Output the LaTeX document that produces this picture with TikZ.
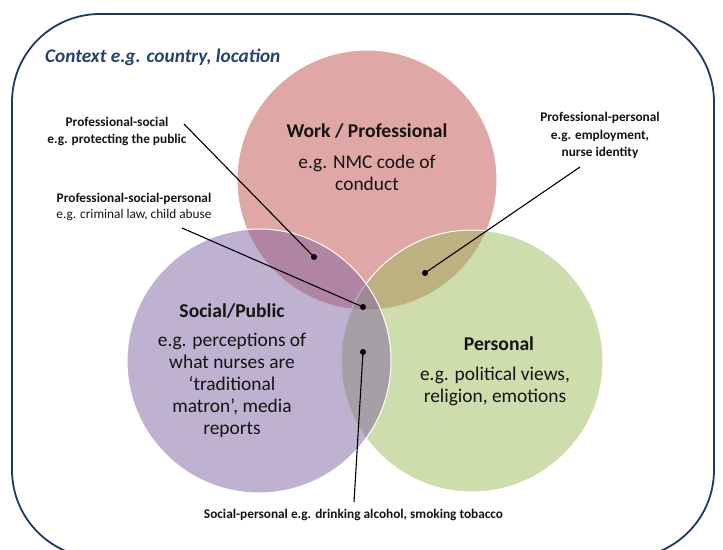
\documentclass[tikz,border=0pt]{standalone}
\usepackage{fontspec}
\setmainfont{Carlito}
\definecolor{framec}{RGB}{31,56,100}
\definecolor{ctxc}{RGB}{38,66,112}
\definecolor{redc}{RGB}{192,80,77}
\definecolor{purc}{RGB}{128,100,162}
\definecolor{grnc}{RGB}{155,187,89}
\definecolor{txtc}{RGB}{20,20,20}
\begin{document}
\begin{tikzpicture}[x=1pt,y=-1pt,
  venn/.style={circle, inner sep=0pt, fill opacity=0.5, draw=white, draw opacity=1, line width=1pt},
  bigtitle/.style={font=\fontsize{19.6}{22}\selectfont\bfseries, text=txtc, align=center, inner sep=0pt},
  bigbody/.style={font=\fontsize{19.4}{22}\selectfont, text=txtc, align=center, inner sep=0pt},
  smalllab/.style={font=\fontsize{13.3}{17.3}\selectfont\bfseries, text=txtc, align=center, inner sep=0pt},
  smallreg/.style={font=\fontsize{13.3}{17.3}\selectfont, text=txtc, align=center, inner sep=0pt},
  conn/.style={line width=1.1pt, black},
  dotc/.style={circle, fill=black, inner sep=0pt, minimum size=6pt}]
\useasboundingbox (0,0) rectangle (723,549);
\begin{scope}
\clip (0,0) rectangle (723,549);
\draw[framec, line width=1.8pt, rounded corners=88pt] (12,14) rectangle (714,558);
\end{scope}
\node[anchor=west, font=\fontsize{19.3}{22}\selectfont\bfseries\itshape, text=ctxc, inner sep=0pt] (ctx) at (45,57) {Context e.g. country, location};
% circles
\node[venn, fill=redc, minimum size=260pt] (work) at (367,180) {};
\node[venn, fill=grnc, minimum size=262pt] (pers) at (472,361) {};
\node[venn, fill=purc, minimum size=264pt] (soc) at (259,361) {};
% circle texts
\node[bigtitle] (worktitle) at (367,131) {Work / Professional};
\node[bigbody] (workbody) at (367,173) {e.g. NMC code of\\conduct};
\node[bigtitle] (soctitle) at (232,311) {Social/Public};
\node[bigbody] (socbody) at (232,385) {e.g. perceptions of\\what nurses are\\‘traditional\\matron’, media\\reports};
\node[bigtitle] (perstitle) at (499,344) {Personal};
\node[bigbody] (persbody) at (495,386) {e.g. political views,\\religion, emotions};
% labels
\node[smalllab] (ps) at (117,131.5) {Professional-social\\e.g. protecting the public};
\node[smalllab] (psp1) at (134,199) {Professional-social-personal};
\node[smallreg] (psp2) at (134,215.5) {e.g. criminal law, child abuse};
\node[smalllab] (pp) at (600,135.5) {Professional-personal\\e.g. employment,\\nurse identity};
\node[smalllab] (sp) at (353.5,515) {Social-personal e.g. drinking alcohol, smoking tobacco};
% dots
\node[dotc] (dps) at (314,257) {};
\node[dotc] (dpsp) at (363,307) {};
\node[dotc] (dpp) at (425,273) {};
\node[dotc] (dsp) at (363,352) {};
% connector free ends
\coordinate (eps) at (184,124);
\coordinate (epsp) at (182,228);
\coordinate (epp) at (580,167);
\coordinate (esp) at (354,502);
\draw[conn] (eps) -- (dps.center);
\draw[conn] (epsp) -- (dpsp.center);
\draw[conn] (epp) -- (dpp.center);
\draw[conn] (esp) -- (dsp.center);
\end{tikzpicture}
\end{document}
